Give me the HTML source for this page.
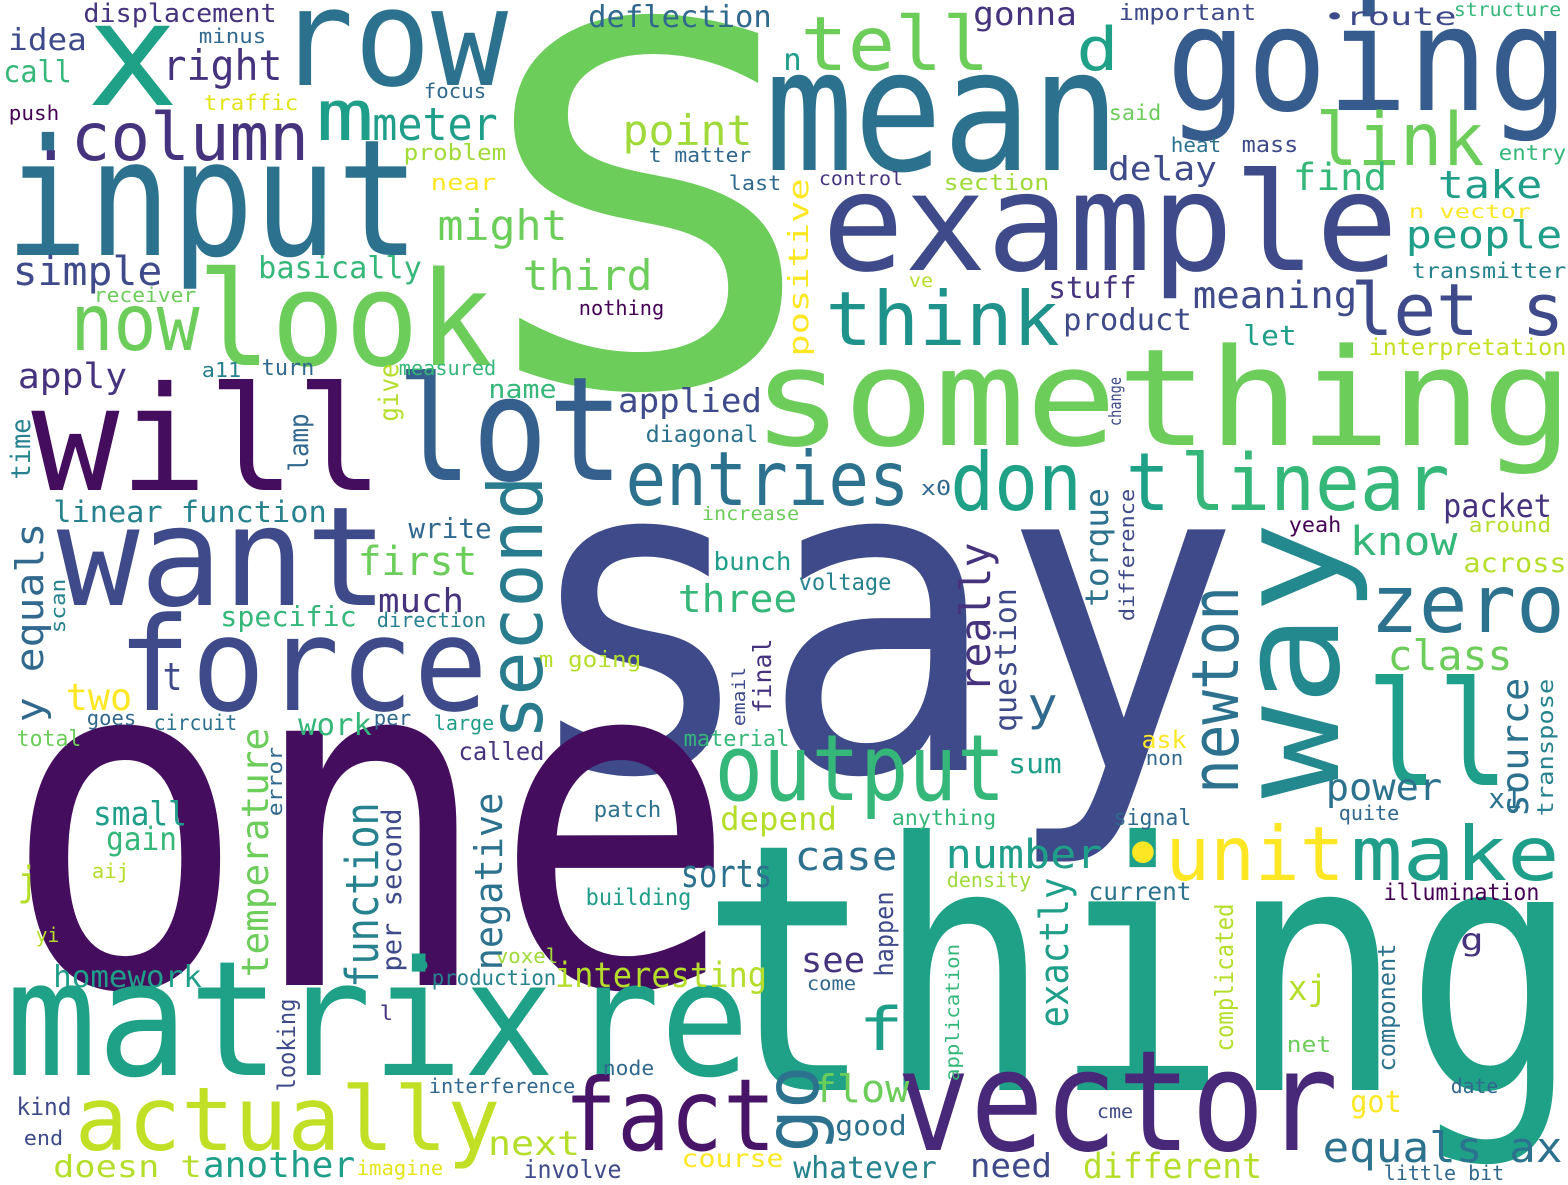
<!DOCTYPE html>
<html>
<head>
<meta charset="utf-8">
<style>
html,body{margin:0;padding:0;background:#fff;}
svg{display:block;}
text{font-family:"DejaVu Sans Mono","Liberation Mono",monospace;}
</style>
</head>
<body>
<svg id="cloud" width="1568" height="1185" viewBox="0 0 1568 1185" xmlns="http://www.w3.org/2000/svg">
<rect width="1568" height="1185" fill="#ffffff"/>
</svg>
<script>
// Horizontal words: [text, x1, x2, baseline, fontSize, color]
const hWords = [
["S",505,790,385,500,"#6ccd5a"],
["say",545,1215,770,440,"#3e4a89"],
["one",30,710,985,465,"#450d5e"],
["thing",720,1560,1090,345,"#1fa187"],
["something",760,1565,445,135,"#6ccd5a"],
["example",830,1390,270,136,"#3e4a89"],
["mean",775,1110,170,170,"#2c728e"],
["going",1175,1560,110,145,"#365c8d"],
["row",285,500,85,135,"#2c728e"],
["x",95,170,105,145,"#1fa187"],
["input",15,410,255,162,"#2c728e"],
["look",205,485,365,131,"#6ccd5a"],
["will",40,375,490,145,"#450d5e"],
["lot",405,615,480,145,"#355f8d"],
["want",65,380,605,138,"#3e4a89"],
["force",125,480,710,130,"#3e4a89"],
["matrix",15,545,1075,160,"#1fa187"],
["re",580,740,1075,160,"#1fa187"],
["vector",905,1330,1150,140,"#482878"],
["fact",570,770,1150,100,"#481467"],
["actually",80,495,1150,88,"#c0df25"],
["ll",1375,1500,785,145,"#1f9e89"],
["output",720,1000,800,92,"#35b779"],
["don t",955,1165,510,80,"#1fa187"],
["linear",1185,1445,510,78,"#35b779"],
["entries",630,905,505,75,"#2c728e"],
["think",830,1055,345,75,"#20928c"],
["let s",1355,1560,335,72,"#3e4a89"],
["link",1320,1480,165,73,"#6ccd5a"],
["tell",805,985,70,75,"#6ccd5a"],
["d",1080,1115,70,60,"#1fa187"],
[".column",35,305,160,66,"#46337e"],
["m",320,370,140,70,"#1f9e89"],
["meter",375,495,140,45,"#1f9e89"],
["right",165,280,80,42,"#46337e"],
["now",75,195,350,78,"#6ccd5a"],
["simple",15,160,285,40,"#3e4a89"],
["basically",260,420,278,30,"#35b779"],
["third",525,650,290,42,"#6ccd5a"],
["might",440,565,240,42,"#6ccd5a"],
["point",625,750,145,42,"#9fda3a"],
["apply",20,125,388,35,"#46337e"],
["idea",10,85,50,30,"#3e4a89"],
["call",5,70,82,30,"#35b779"],
["displacement",85,275,22,26,"#46337e"],
["minus",200,265,43,20,"#31688e"],
["push",10,58,120,20,"#440154"],
["traffic",205,297,110,21,"#e4e419"],
["focus",425,485,98,20,"#31688e"],
["problem",405,505,160,22,"#a2da37"],
["near",432,495,190,22,"#fde725"],
["deflection",590,770,27,30,"#31688e"],
["gonna",975,1075,25,32,"#46337e"],
["important",1120,1255,20,22,"#3e4a89"],
["\u2022route",1325,1455,25,25,"#3e4a89"],
["structure",1455,1560,16,19,"#35b779"],
["n",785,800,70,30,"#1f9e89"],
["said",1110,1160,120,21,"#6ccd5a"],
["heat",1172,1220,152,20,"#2c728e"],
["mass",1243,1297,152,22,"#3e4a89"],
["entry",1500,1565,160,21,"#35b779"],
["t matter",650,750,162,20,"#31688e"],
["last",730,780,190,20,"#31688e"],
["control",820,902,185,19,"#46337e"],
["section",945,1048,190,22,"#9fda3a"],
["delay",1110,1215,180,33,"#3e4a89"],
["find",1295,1385,190,37,"#35b779"],
["take",1440,1540,198,38,"#1f9e89"],
["people",1408,1560,248,38,"#1f9e89"],
["n vector",1410,1530,218,19,"#fde725"],
["transmitter",1413,1565,278,21,"#26828e"],
["meaning",1195,1355,308,37,"#3e4a89"],
["stuff",1050,1135,298,30,"#46337e"],
["product",1065,1190,330,30,"#3e4a89"],
["let",1245,1295,345,28,"#1f9e89"],
["ve",910,932,287,19,"#b5de2b"],
["interpretation",1370,1565,355,23,"#c4e021"],
["receiver",95,195,302,20,"#6ccd5a"],
["nothing",580,663,315,20,"#440154"],
["measured",400,495,375,20,"#35b779"],
["a11",203,240,377,20,"#26828e"],
["turn",263,313,375,22,"#31688e"],
["name",490,555,398,26,"#35b779"],
["applied",620,760,412,33,"#3e4a89"],
["diagonal",647,757,442,23,"#2c728e"],
["x0",922,950,495,20,"#31688e"],
["increase",703,798,520,19,"#6ccd5a"],
["linear function",55,325,522,29,"#26828e"],
["write",410,490,538,28,"#31688e"],
["packet",1445,1550,517,32,"#46337e"],
["yeah",1290,1340,532,21,"#440154"],
["around",1470,1550,532,20,"#b5de2b"],
["know",1352,1455,555,40,"#35b779"],
["across",1465,1565,572,27,"#b5de2b"],
["zero",1375,1560,632,80,"#2c728e"],
["class",1390,1510,670,42,"#6ccd5a"],
["power",1328,1440,800,37,"#2c728e"],
["quite",1340,1398,820,20,"#31688e"],
["x1",1490,1520,808,28,"#2c728e"],
["make",1355,1555,880,75,"#1f9e89"],
["illumination",1385,1538,900,23,"#440154"],
["current",1090,1190,900,25,"#2c728e"],
["density",948,1030,887,20,"#9fda3a"],
["signal",1115,1190,825,22,"#31688e"],
["non",1147,1182,765,20,"#31688e"],
["ask",1143,1185,748,24,"#fde725"],
["sum",1010,1060,773,28,"#1f9e89"],
["\u2022unit",1125,1340,880,75,"#fde725"],
["y",1030,1055,720,45,"#31688e"],
["voltage",800,890,590,23,"#26828e"],
["bunch",715,790,570,25,"#1f9e89"],
["three",680,795,612,38,"#35b779"],
["first",360,475,575,40,"#6ccd5a"],
["much",380,462,612,33,"#46337e"],
["specific",222,355,626,28,"#35b779"],
["direction",378,485,627,20,"#26828e"],
["t",165,180,690,38,"#3e4a89"],
["two",68,130,710,37,"#fde725"],
["goes",88,135,725,20,"#31688e"],
["circuit",155,236,730,21,"#2c728e"],
["total",18,80,746,22,"#6ccd5a"],
["work",300,370,735,30,"#35b779"],
["per",375,410,725,20,"#31688e"],
["large",435,493,730,20,"#1f9e89"],
["m going",540,640,667,22,"#b5de2b"],
["called",460,543,760,25,"#46337e"],
["material",685,788,746,22,"#35b779"],
["small",95,185,825,33,"#1f9e89"],
["gain",108,175,850,32,"#35b779"],
["j",20,35,895,40,"#b5de2b"],
["aij",93,128,878,20,"#b5de2b"],
["yi",37,58,942,20,"#b5de2b"],
["patch",595,660,817,22,"#2c728e"],
["anything",893,995,825,21,"#35b779"],
["depend",722,835,830,32,"#b5de2b"],
["sorts",683,770,887,38,"#2c728e"],
["case",797,895,870,40,"#2c728e"],
["number",948,1100,868,40,"#1f9e89"],
["building",587,690,905,23,"#1f9e89"],
["homework",55,200,987,30,"#1f9e89"],
["\u2022",410,432,980,40,"#1f9e89"],
["production",433,555,985,21,"#26828e"],
["voxel",497,557,963,20,"#9fda3a"],
["interesting",557,765,987,35,"#b5de2b"],
["see",803,863,972,35,"#46337e"],
["come",808,855,990,19,"#31688e"],
["g",1462,1482,950,30,"#46337e"],
["xj",1290,1325,1000,35,"#b5de2b"],
["net",1288,1330,1052,22,"#6ccd5a"],
["f",862,900,1050,60,"#1f9e89"],
["l",381,392,1020,20,"#46337e"],
["node",604,653,1075,20,"#31688e"],
["flow",815,907,1102,38,"#6ccd5a"],
["good",837,905,1135,28,"#2c728e"],
["interference",430,574,1093,20,"#31688e"],
["kind",18,70,1115,24,"#3e4a89"],
["end",25,62,1145,20,"#3e4a89"],
["next",490,578,1155,34,"#b5de2b"],
["doesn t",55,200,1177,30,"#b5de2b"],
["another",205,353,1177,36,"#1f9e89"],
["imagine",358,442,1175,20,"#e5e419"],
["involve",525,620,1178,25,"#3e4a89"],
["course",683,782,1167,25,"#fde725"],
["whatever",795,935,1178,30,"#26828e"],
["need",972,1050,1177,33,"#3e4a89"],
["different",1085,1260,1178,35,"#b5de2b"],
["equals ax",1325,1560,1162,42,"#2c728e"],
["got",1352,1400,1112,30,"#fde725"],
["cme",1098,1132,1118,19,"#3e4a89"],
["date",1452,1497,1093,20,"#31688e"],
["little bit",1385,1503,1180,20,"#31688e"]
];
// Vertical words (reading bottom to top): [text, baselineX, y1, y2, fontSize, color]
const vWords = [
["go",818,1070,1148,75,"#2c728e"],
["second",542,480,735,75,"#297b8e"],
["way",1338,530,790,140,"#23898e"],
["positive",808,180,355,28,"#fde725"],
["time",30,420,478,27,"#26828e"],
["lamp",308,415,470,27,"#31688e"],
["give",398,365,420,27,"#b5de2b"],
["change",1121,378,425,17,"#3e4a89"],
["torque",1108,490,605,32,"#2c728e"],
["difference",1134,490,620,20,"#3e4a89"],
["source",1528,680,815,37,"#2c728e"],
["transpose",1553,680,815,22,"#26828e"],
["newton",1238,590,790,65,"#2c728e"],
["question",1016,590,730,30,"#3e4a89"],
["really",990,545,690,42,"#46337e"],
["final",771,640,712,25,"#46337e"],
["email",745,668,725,18,"#3e4a89"],
["y equals",43,525,720,38,"#31688e"],
["scan",65,580,632,20,"#26828e"],
["temperature",268,730,975,37,"#6ccd5a"],
["error",282,748,815,20,"#31688e"],
["function",378,805,985,45,"#26828e"],
["per second",401,810,970,27,"#3e4a89"],
["negative",502,795,968,38,"#2c728e"],
["happen",893,893,975,26,"#3e4a89"],
["exactly",1068,880,1025,40,"#1f9e89"],
["application",959,945,1080,19,"#35b779"],
["complicated",1233,905,1050,25,"#b5de2b"],
["component",1395,945,1070,24,"#2c728e"],
["looking",295,1000,1090,24,"#3e4a89"]
];
const svg = document.getElementById('cloud');
const NS = 'http://www.w3.org/2000/svg';
function slug(s){return s.replace(/[^a-z0-9]+/gi,'-').replace(/^-|-$/g,'').toLowerCase()||'dot';}
hWords.forEach(w => {
  const [t,x1,x2,b,fs,c] = w;
  const el = document.createElementNS(NS,'text');
  const pad = 0.06*fs;
  el.setAttribute('x', x1 - pad);
  el.setAttribute('y', b);
  el.setAttribute('font-size', fs);
  el.setAttribute('fill', c);
  el.setAttribute('textLength', Math.max(4, x2 - x1 + 2*pad));
  el.setAttribute('lengthAdjust', 'spacingAndGlyphs');
  el.textContent = t;
  
  
  svg.appendChild(el);
});
vWords.forEach(w => {
  const [t,bx,y1,y2,fs,c] = w;
  const el = document.createElementNS(NS,'text');
  const pad = 0.06*fs;
  el.setAttribute('x', 0);
  el.setAttribute('y', 0);
  el.setAttribute('transform', 'translate(' + bx + ',' + (y2 + pad) + ') rotate(-90)');
  el.setAttribute('font-size', fs);
  el.setAttribute('fill', c);
  el.setAttribute('textLength', Math.max(4, y2 - y1 + 2*pad));
  el.setAttribute('lengthAdjust', 'spacingAndGlyphs');
  el.textContent = t;
  
  
  svg.appendChild(el);
});
</script>
</body>
</html>
